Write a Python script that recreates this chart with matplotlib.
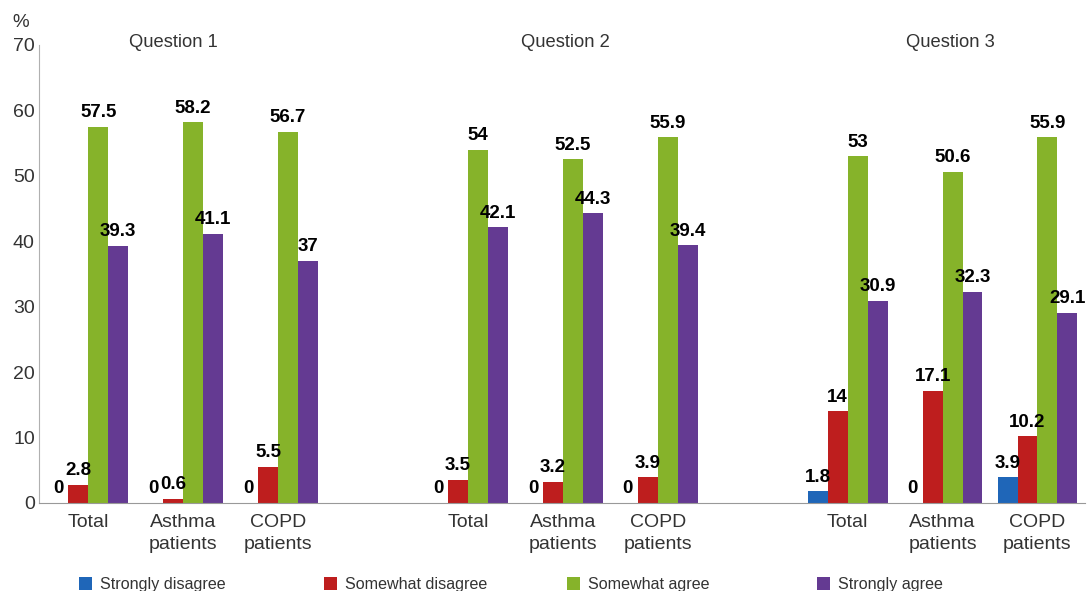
import numpy as np
import matplotlib.pyplot as plt

plt.rcParams['font.family'] = ['Liberation Sans', 'DejaVu Sans']

questions = ['Question 1', 'Question 2', 'Question 3']
groups = ['Total', 'Asthma\npatients', 'COPD\npatients'] * 3
series = ['Strongly disagree', 'Somewhat disagree', 'Somewhat agree', 'Strongly agree']
colors = ['#1F66B8', '#BE1E1E', '#86B32A', '#643A92']

strongly_disagree = [0, 0, 0, 0, 0, 0, 1.8, 0, 3.9]
somewhat_disagree = [2.8, 0.6, 5.5, 3.5, 3.2, 3.9, 14, 17.1, 10.2]
somewhat_agree = [57.5, 58.2, 56.7, 54, 52.5, 55.9, 53, 50.6, 55.9]
strongly_agree = [39.3, 41.1, 37, 42.1, 44.3, 39.4, 30.9, 32.3, 29.1]
values = [strongly_disagree, somewhat_disagree, somewhat_agree, strongly_agree]

# three groups per question, one empty slot between questions
x = np.array([0, 1, 2, 4, 5, 6, 8, 9, 10])
w = 0.21

fig = plt.figure(figsize=(10.88, 5.91), dpi=100)
ax = fig.add_axes([0.0358, 0.149, 0.9614, 0.775])

bars = []
for i, (name, vals, c) in enumerate(zip(series, values, colors)):
    pos = x + (i - 1.5) * w
    b = ax.bar(pos, vals, w, color=c, label=name)
    bars.append(b)
    for px, v in zip(pos, vals):
        ax.annotate(f'{v:g}', (px, v), xytext=(0, 4), textcoords='offset points',
                    ha='center', va='bottom', fontsize=13.5, fontweight='bold',
                    color='black')

ax.set_xlim(-0.52, 10.5)
ax.set_ylim(0, 70)
ax.set_yticks(range(0, 71, 10))
ax.set_xticks(x)
ax.set_xticklabels(groups, fontsize=14, color='#333333', linespacing=1.4)
ax.tick_params(axis='both', length=0, labelsize=14, colors='#333333')
ax.tick_params(axis='y', pad=3)
ax.tick_params(axis='x', pad=8)

for s in ['top', 'right']:
    ax.spines[s].set_visible(False)
ax.spines['left'].set_color('#b0b0b0')
ax.spines['bottom'].set_color('#999999')

for q, cx in zip(questions, [0.9, 5.03, 9.08]):
    ax.text(cx, 70.3, q, ha='center', va='center', fontsize=13.2, color='#333333',
            clip_on=False)

fig.text(0.019, 0.962, '%', ha='center', va='center', fontsize=13.5, color='#333333')

# legend entries sit at fixed positions along the bottom edge
for b, lx in zip(bars, [0.073, 0.298, 0.521, 0.751]):
    fig.legend(handles=[b], loc='center left', bbox_to_anchor=(lx, 0.011),
               frameon=False, fontsize=11.6, handlelength=0.8, handleheight=0.8,
               handletextpad=0.5, borderpad=0, borderaxespad=0,
               labelcolor='#333333')

fig.savefig('out.png', dpi=100)
